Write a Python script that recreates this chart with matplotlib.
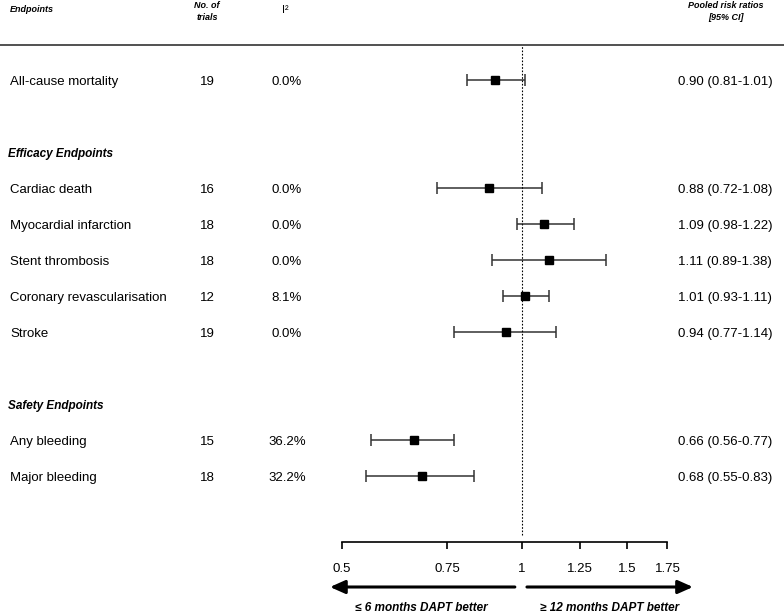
import matplotlib
matplotlib.use("Agg")
import matplotlib.pyplot as plt
import matplotlib.transforms as mtransforms
from matplotlib.lines import Line2D

plt.rcParams['font.family'] = ['Liberation Sans', 'DejaVu Sans']

# Data
endpoints = ["All-cause mortality", "Cardiac death", "Myocardial infarction",
             "Stent thrombosis", "Coronary revascularisation", "Stroke",
             "Any bleeding", "Major bleeding"]
rows = [1, 4, 5, 6, 7, 8, 11, 12]
n_trials = [19, 16, 18, 18, 12, 19, 15, 18]
i2 = ["0.0%", "0.0%", "0.0%", "0.0%", "8.1%", "0.0%", "36.2%", "32.2%"]
rr = [0.90, 0.88, 1.09, 1.11, 1.01, 0.94, 0.66, 0.68]
lo = [0.81, 0.72, 0.98, 0.89, 0.93, 0.77, 0.56, 0.55]
hi = [1.01, 1.08, 1.22, 1.38, 1.11, 1.14, 0.77, 0.83]
headings = ["Efficacy Endpoints", "Safety Endpoints"]
heading_rows = [3, 10]
xticks = [0.5, 0.75, 1, 1.25, 1.5, 1.75]
xticklabels = ["0.5", "0.75", "1", "1.25", "1.5", "1.75"]

W, H = 784, 615
fig = plt.figure(figsize=(W / 100, H / 100), dpi=100)
ax = fig.add_axes([330 / W, (H - 542) / H, 370 / W, 497 / H])

ax.set_xscale('log')
ax.set_xlim(0.478, 1.983)
ax.set_ylim(13.83, 0.03)

err = [[r - l for r, l in zip(rr, lo)], [h - r for r, h in zip(rr, hi)]]
ax.errorbar(rr, rows, xerr=err, fmt='s', color='black', ecolor='#333333',
            elinewidth=1.1, capsize=4, capthick=1.1, markersize=5.5)
ax.axvline(1, ymin=0.015, ymax=1, color='black', lw=0.8, ls=(0, (1.5, 1.5)))

for s in ['top', 'left', 'right']:
    ax.spines[s].set_visible(False)
ax.spines['bottom'].set_bounds(0.5, 1.75)
ax.spines['bottom'].set_linewidth(1.2)
ax.set_yticks([])
ax.xaxis.set_minor_locator(matplotlib.ticker.NullLocator())
ax.set_xticks(xticks)
ax.set_xticklabels(xticklabels, fontsize=9.5)
ax.tick_params(axis='x', direction='out', length=5, width=1.2, pad=10)

# table columns (small downward nudge so digits sit level with the squares)
tr = mtransforms.blended_transform_factory(fig.transFigure, ax.transData)
dy = 0.05
for name, r, n, q, m, l, h in zip(endpoints, rows, n_trials, i2, rr, lo, hi):
    ax.text(10 / W, r + dy, name, transform=tr, fontsize=9.5, va='center', ha='left')
    ax.text(207 / W, r + dy, str(n), transform=tr, fontsize=9.5, va='center', ha='center')
    ax.text(287 / W, r + dy, q, transform=tr, fontsize=9.5, va='center', ha='center')
    ax.text(678 / W, r + dy, f"{m:.2f} ({l:.2f}-{h:.2f})", transform=tr,
            fontsize=9.5, va='center', ha='left')
for name, r in zip(headings, heading_rows):
    ax.text(8 / W, r + dy, name, transform=tr, fontsize=8.5, va='center', ha='left',
            weight='bold', style='italic')

# header
hdr = dict(fontsize=6.5, weight='bold', style='italic', va='center')
fig.text(10 / W, 1 - 9 / H, "Endpoints", ha='left', **hdr)
fig.text(207 / W, 1 - 5 / H, "No. of", ha='center', **hdr)
fig.text(207 / W, 1 - 17 / H, "trials", ha='center', **hdr)
fig.text(285 / W, 1 - 10 / H, "I²", ha='center', fontsize=8, va='center')
fig.text(726 / W, 1 - 5 / H, "Pooled risk ratios", ha='center', **hdr)
fig.text(726 / W, 1 - 17 / H, "[95% CI]", ha='center', **hdr)
fig.add_artist(Line2D([0, 1], [1 - 45 / H, 1 - 45 / H], transform=fig.transFigure,
                      color='#333333', lw=1.2))

# direction arrows
ay = (542 - 587) / 497
xt = ax.get_xaxis_transform()
arrow = dict(arrowstyle='-|>,head_length=0.9,head_width=0.4', color='black', lw=2.2,
             shrinkA=0, shrinkB=0)
ax.annotate("", xy=(0.478, ay), xytext=(0.973, ay), xycoords=xt, textcoords=xt,
            arrowprops=arrow, annotation_clip=False)
ax.annotate("", xy=(1.93, ay), xytext=(1.0194, ay), xycoords=xt, textcoords=xt,
            arrowprops=arrow, annotation_clip=False)
ty = (542 - 608) / 497
ax.text(0.68, ty, "≤ 6 months DAPT better", transform=xt, ha='center', va='center',
        fontsize=8.5, weight='bold', style='italic')
ax.text(1.40, ty, "≥ 12 months DAPT better", transform=xt, ha='center', va='center',
        fontsize=8.5, weight='bold', style='italic')

fig.savefig("out.png", dpi=100)
